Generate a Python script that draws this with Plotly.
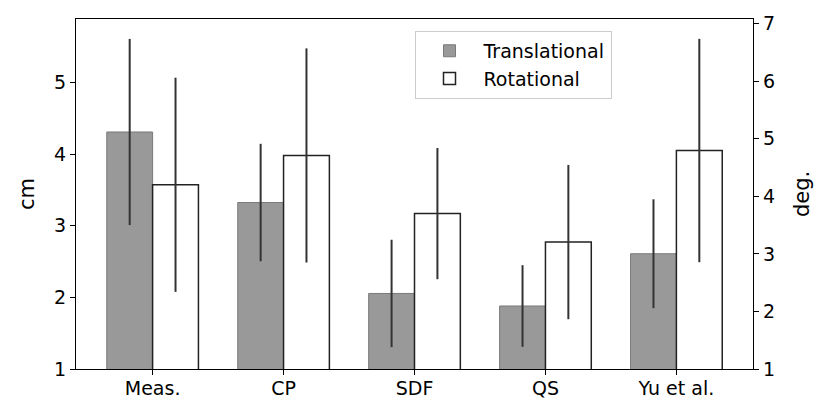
import plotly.graph_objects as go

categories = ["Meas.", "CP", "SDF", "QS", "Yu et al."]
trans_mean = [4.31, 3.325, 2.055, 1.88, 2.61]
trans_err = [1.30, 0.82, 0.75, 0.57, 0.76]
rot_mean = [4.20, 4.71, 3.70, 3.205, 4.795]
rot_err = [1.86, 1.86, 1.14, 1.34, 1.94]

bar_w = 0.35
idx = list(range(len(categories)))
x_trans = [i - bar_w / 2 for i in idx]
x_rot = [i + bar_w / 2 for i in idx]

font = "DejaVu Sans, sans-serif"

# page body has an 8px margin, so the figure is shrunk and shifted accordingly
W, H = 822, 407
ML, MR, MT, MB = 68, 77, 11, 46

fig = go.Figure()
fig.add_trace(go.Bar(
    x=x_trans, y=trans_mean, width=bar_w, name="Translational",
    marker=dict(color="#999999", line=dict(color="#7a7a7a", width=1)),
    error_y=dict(type="data", array=trans_err, color="#333333", thickness=2, width=0),
    yaxis="y",
))
fig.add_trace(go.Bar(
    x=x_rot, y=rot_mean, width=bar_w, name="Rotational",
    marker=dict(color="white", line=dict(color="#222222", width=1.5)),
    error_y=dict(type="data", array=rot_err, color="#333333", thickness=2, width=0),
    yaxis="y2",
))

plot_w = W - ML - MR

axis_common = dict(
    showline=True, linecolor="black", linewidth=1.3,
    ticks="outside", ticklen=5, tickcolor="black",
    showgrid=False, zeroline=False, automargin=False,
    tickfont=dict(size=19),
)

fig.update_layout(
    width=W, height=H,
    margin=dict(l=ML, r=MR, t=MT, b=MB, autoexpand=False),
    paper_bgcolor="white", plot_bgcolor="white",
    barmode="overlay",
    font=dict(family=font, size=19, color="black"),
    showlegend=True,
    legend=dict(
        x=0.5, y=0.966, xanchor="left", yanchor="top",
        bgcolor="white", bordercolor="#cccccc", borderwidth=1,
        font=dict(size=19, family=font),
        itemwidth=58,
    ),
    xaxis=dict(
        range=[-0.585, 4.585],
        tickvals=idx, ticktext=categories,
        mirror=True, ticklabelstandoff=-3,
        **axis_common,
    ),
    yaxis=dict(
        range=[1, 5.888],
        tickvals=[1, 2, 3, 4, 5],
        **axis_common,
    ),
    yaxis2=dict(
        range=[1, 7.08],
        tickvals=[1, 2, 3, 4, 5, 6, 7],
        overlaying="y", side="right",
        **axis_common,
    ),
    annotations=[
        dict(text="cm", x=(27 - 8 - ML) / plot_w, y=0.5, xref="paper", yref="paper",
             showarrow=False, textangle=-90, font=dict(size=21),
             xanchor="center", yanchor="middle"),
        dict(text="deg.", x=(802 - 8 - ML) / plot_w, y=0.5, xref="paper", yref="paper",
             showarrow=False, textangle=-90, font=dict(size=21),
             xanchor="center", yanchor="middle"),
    ],
)

fig.write_html("out.html")
